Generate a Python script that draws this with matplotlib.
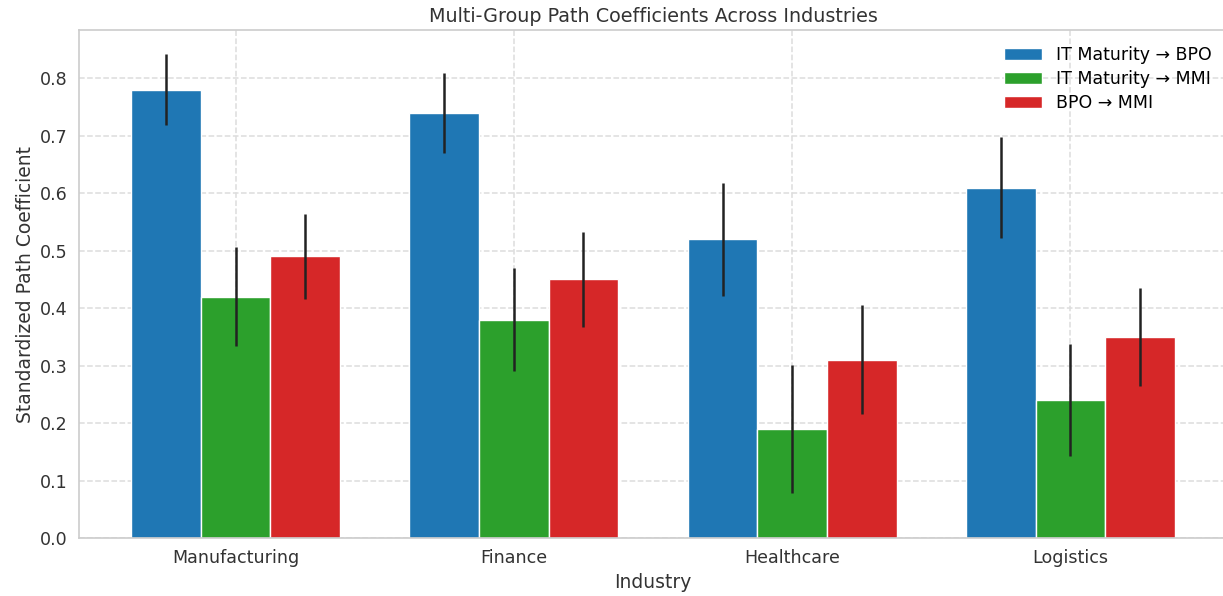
import numpy as np
import matplotlib
matplotlib.use('Agg')
import matplotlib.pyplot as plt

# Data
industries = ['Manufacturing', 'Finance', 'Healthcare', 'Logistics']
paths = ['IT Maturity → BPO', 'IT Maturity → MMI', 'BPO → MMI']
it_bpo = [0.78, 0.74, 0.52, 0.61]
it_mmi = [0.42, 0.38, 0.19, 0.24]
bpo_mmi = [0.49, 0.45, 0.31, 0.35]
err_it_bpo = [0.062, 0.070, 0.098, 0.088]
err_it_mmi = [0.086, 0.090, 0.111, 0.097]
err_bpo_mmi = [0.074, 0.082, 0.095, 0.085]

colors = ['#1f77b4', '#2ca02c', '#d62728']

plt.rcParams['font.family'] = 'DejaVu Sans'
plt.rcParams['font.size'] = 12

fig = plt.figure(figsize=(12.23, 5.96), dpi=100)
ax = fig.add_axes([0.0646, 0.0973, 0.9387, 0.8523])

x = np.arange(len(industries))
width = 0.25
series = [it_bpo, it_mmi, bpo_mmi]
errs = [err_it_bpo, err_it_mmi, err_bpo_mmi]

for i, (vals, err) in enumerate(zip(series, errs)):
    ax.bar(x + (i - 1) * width, vals, width, yerr=err, color=colors[i],
           edgecolor='white', linewidth=1, label=paths[i],
           error_kw=dict(ecolor='#222222', elinewidth=1.8, capsize=0), zorder=2)

ax.set_xticks(x)
ax.set_xticklabels(industries)
ax.set_yticks(np.arange(0, 0.81, 0.1))
ax.set_xlabel('Industry', color='#333333', fontsize=13.5)
ax.set_ylabel('Standardized Path Coefficient', color='#333333', fontsize=13.5)
ax.set_title('Multi-Group Path Coefficients Across Industries', color='#333333',
             fontsize=13.8, pad=6)

ax.grid(True, linestyle='--', color='#dddddd', linewidth=1.1, zorder=0)
ax.set_axisbelow(True)
for s in ax.spines.values():
    s.set_color('#cccccc')
    s.set_linewidth(1.2)
ax.tick_params(length=0, colors='#333333', labelsize=12.6, pad=8)

ax.legend(loc='upper right', frameon=False, fontsize=12.5, labelspacing=0.35,
          handlelength=2.2)

fig.savefig('out.png', dpi=100)
